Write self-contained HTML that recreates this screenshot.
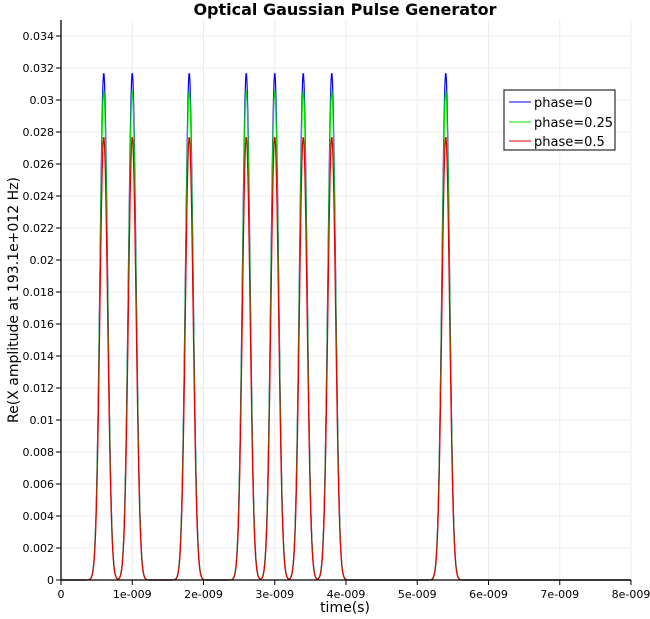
<!DOCTYPE html>
<html><head><meta charset="utf-8"><style>
body{margin:0;background:#fff;}
svg{display:block;font-family:"DejaVu Sans","Liberation Sans",sans-serif;}
</style></head><body>
<svg id="chart" width="650" height="619">
<g id="grid"></g>
<g id="series"></g>
<g id="axes"></g>
<text x="345" y="15" text-anchor="middle" font-size="16" font-weight="600" fill="#000">Optical Gaussian Pulse Generator</text>
<text x="345" y="612" text-anchor="middle" font-size="14" fill="#000">time(s)</text>
<text transform="translate(18,300) rotate(-90)" text-anchor="middle" font-size="14" fill="#000">Re(X amplitude at 193.1e+012 Hz)</text>
<g>
<rect x="504" y="90" width="111" height="60" fill="#fff" stroke="#000"/>
<line x1="509" y1="102" x2="531" y2="102" stroke="#0000ff"/>
<text x="534" y="107" font-size="13">phase=0</text>
<line x1="509" y1="122" x2="531" y2="122" stroke="#00e000"/>
<text x="534" y="127" font-size="13">phase=0.25</text>
<line x1="509" y1="141" x2="531" y2="141" stroke="#e00000"/>
<text x="534" y="146" font-size="13">phase=0.5</text>
</g>
</svg>
<script>
const pulseCenters = [0.6, 1.0, 1.8, 2.6, 3.0, 3.4, 3.8, 5.4]; // ns
const seriesNames = ["phase=0", "phase=0.25", "phase=0.5"];
const seriesPeaks = [0.0317, 0.0306, 0.0277];
const seriesColors = ["#0000ff", "#00e000", "#e00000"];
const xTicks = [0,1,2,3,4,5,6,7,8];
const xTickLabels = ["0","1e-009","2e-009","3e-009","4e-009","5e-009","6e-009","7e-009","8e-009"];
const yTicks = [0,0.002,0.004,0.006,0.008,0.01,0.012,0.014,0.016,0.018,0.02,0.022,0.024,0.026,0.028,0.03,0.032,0.034];
const yTickLabels = ["0","0.002","0.004","0.006","0.008","0.01","0.012","0.014","0.016","0.018","0.02","0.022","0.024","0.026","0.028","0.03","0.032","0.034"];
const sigma = 0.054;
const X0=61, X1=631, Y0=580, YT=20;
const xs = v => X0 + v*(X1-X0)/8;
const ys = v => Y0 - v*16000;
const NS="http://www.w3.org/2000/svg";
const grid=document.getElementById('grid'), axes=document.getElementById('axes'), ser=document.getElementById('series');
function mk(tag, attrs, parent){const e=document.createElementNS(NS,tag);for(const k in attrs)e.setAttribute(k,attrs[k]);parent.appendChild(e);return e;}
xTicks.forEach((t,i)=>{
  const x=xs(t);
  const g=mk('line',{x1:x,y1:YT,x2:x,y2:Y0,stroke:'#ececec'},grid);
  
  
  const tk=mk('line',{x1:x,y1:Y0,x2:x,y2:Y0+5,stroke:'#000'},axes);
  
  
  const tx=mk('text',{x:x,y:Y0+18,'text-anchor':'middle','font-size':'11'},axes);
  tx.textContent=xTickLabels[i];
  
  
});
yTicks.forEach((t,i)=>{
  const y=ys(t);
  const g=mk('line',{x1:X0,y1:y,x2:X1,y2:y,stroke:'#ececec'},grid);
  
  
  const tk=mk('line',{x1:X0-5,y1:y,x2:X0,y2:y,stroke:'#000'},axes);
  
  
  const tx=mk('text',{x:X0-7,y:y+4,'text-anchor':'end','font-size':'11'},axes);
  tx.textContent=yTickLabels[i];
  
  
});
const ax=mk('path',{d:`M${X0},${YT}V${Y0}H${X1}`,fill:'none',stroke:'#000','stroke-width':1.3},axes);


seriesPeaks.forEach((pk,si)=>{
  let d='';
  for(let px=X0;px<=X1;px+=0.5){
    const t=(px-X0)*8/(X1-X0);
    let v=0;
    pulseCenters.forEach(c=>{v+=pk*Math.exp(-(t-c)*(t-c)/(2*sigma*sigma));});
    d+=(d?'L':'M')+px.toFixed(1)+','+ys(v).toFixed(2);
  }
  const p=mk('path',{d:d,fill:'none',stroke:seriesColors[si],'stroke-width':1.2},ser);
  
  
});
</script>
</body></html>
